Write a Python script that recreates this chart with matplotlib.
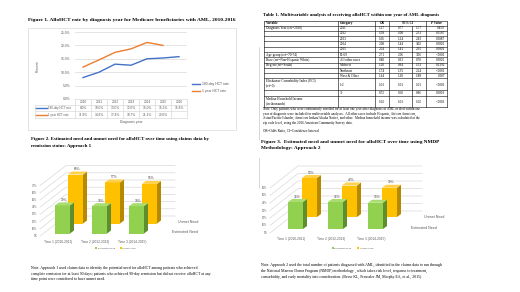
import numpy as np
import matplotlib
matplotlib.use("Agg")
import matplotlib.pyplot as plt
from matplotlib.patches import Polygon, Rectangle

# --- données ---
years = [2010, 2011, 2012, 2013, 2014, 2015, 2016]
rate_180d = [8.0, 10.0, 13.0, 12.6, 15.0, 15.3, 15.8]
rate_1yr = [11.9, 14.6, 17.4, 18.7, 21.1, 20.0]

tbl_variable = ["Diagnosis Year (ref=2010)", "", "", "", "", "Age group (ref=70-74)",
                "Race (ref=Non-Hispanic White)", "Region (ref=South)", "", "",
                "Elixhauser Comorbidity Index (ECI)\n(ref=0)", "",
                "Median Household Income\n(in thousands)"]
tbl_category = ["2011", "2012", "2013", "2014", "2015", "65-69", "All other races",
                "Midwest", "Northeast", "West & Other", "1-2", "3+", ""]
tbl_or = ["1.17", "1.58", "1.66", "2.08", "2.04", "2.71", "0.48", "1.20", "1.74", "1.44",
          "1.01", "0.72", "1.02"]
tbl_ci_lo = ["0.77", "1.08", "1.14", "1.44", "1.41", "2.06", "0.33", "0.94", "1.35", "1.10",
             "1.01", "0.60", "1.01"]
tbl_ci_hi = ["1.77", "2.31", "2.43", "3.02", "2.95", "3.56", "0.70", "1.53", "2.24", "1.88",
             "1.01", "0.86", "1.02"]
tbl_p = ["0.459", "0.0187", "0.0087", "0.0001", "0.0001", "<.0001", "0.0001", "0.1392",
         "<.0001", "0.007", "<.0001", "0.0003", "<.0001"]

periods = ["Time 1 (2010-2011)", "Time 2 (2012-2013)", "Time 3 (2014-2015)"]
a1_need = [39, 38, 38]
a1_unmet = [68, 57, 55]
a2_need = [36, 36, 35]
a2_unmet = [52, 42, 39]

W, H = 520, 292
SERIF = "Liberation Serif"
SANS = "Liberation Sans"
GRID = "#d9d9d9"
TXT = "#595959"
BLUE, ORANGE = "#4472C4", "#ED7D31"

fig = plt.figure(figsize=(W / 100, H / 100), dpi=100)
bg = fig.add_axes([0, 0, 1, 1])
bg.set_xlim(0, W)
bg.set_ylim(H, 0)
bg.axis("off")


def txt(x, y, s, size, family=SERIF, **kw):
    kw.setdefault("va", "center")
    bg.text(x, y, s, fontsize=size, family=family, **kw)


def px_axes(l, t, r, b):
    return fig.add_axes([l / W, 1 - b / H, (r - l) / W, (b - t) / H])


# ============ Figure 1 : courbes ============
txt(28, 20, "Figure 1. AlloHCT rate by diagnosis year for Medicare beneficiaries with AML, 2010-2016",
    3.9, weight="bold")
bg.add_patch(Rectangle((28, 28), 208, 102, fill=False, ec=GRID, lw=0.5))

ax1 = px_axes(75, 32, 187, 99)
ax1.set_facecolor("none")
x = np.arange(len(years))
ax1.plot(x, rate_180d, color=BLUE, lw=1.0)
ax1.plot(x[:len(rate_1yr)], rate_1yr, color=ORANGE, lw=1.0)
ax1.set_xlim(-0.5, len(years) - 0.5)
ax1.set_ylim(0, 25)
ax1.set_yticks(range(0, 26, 5))
ax1.set_yticklabels([f"{v:.1f}%" for v in range(0, 26, 5)], fontsize=2.4, color=TXT, family=SANS)
ax1.set_xticks([])
ax1.tick_params(length=0, pad=3)
ax1.grid(axis="y", color=GRID, lw=0.5)
for s in ax1.spines.values():
    s.set_visible(False)
txt(38, 66, "Percent", 2.4, family=SANS, color=TXT, rotation=90, ha="center")

# légende à droite
for yy, col, lab in [(84, BLUE, "180-day HCT rate"), (91, ORANGE, "1 year HCT rate")]:
    bg.plot([192, 200], [yy, yy], color=col, lw=1.0)
    txt(202, yy, lab, 2.4, family=SANS, color=TXT)

# table de données sous le graphique
cell = 16
x_left = 75
for k, yr in enumerate(years):
    txt(x_left + cell * (k + 0.5), 101.8, str(yr), 2.3, family=SANS, color=TXT, ha="center")
    txt(x_left + cell * (k + 0.5), 108.2, f"{rate_180d[k]:.1f}%", 2.3, family=SANS, color=TXT, ha="center")
    if k < len(rate_1yr):
        txt(x_left + cell * (k + 0.5), 114.6, f"{rate_1yr[k]:.1f}%", 2.3, family=SANS, color=TXT, ha="center")
for yy in [99, 105, 111.4, 118]:
    bg.plot([35 if yy > 99 else x_left, 187], [yy, yy], color=GRID, lw=0.5)
for k in range(len(years) + 1):
    bg.plot([x_left + cell * k] * 2, [99, 118], color=GRID, lw=0.5)
bg.plot([35, 35], [105, 118], color=GRID, lw=0.5)
for yy, col, lab in [(108.2, BLUE, "180-day HCT rate"), (114.6, ORANGE, "1 year HCT rate")]:
    bg.plot([36, 47], [yy, yy], color=col, lw=1.0)
    txt(48.5, yy, lab, 2.1, family=SANS, color=TXT)
txt(131, 122.5, "Diagnosis year", 2.4, family=SANS, color=TXT, ha="center")

# séparateur vertical
bg.plot([259, 259], [47, 140], color="#c8c8c8", lw=0.5)
bg.plot([259, 259], [158, 188], color="#c8c8c8", lw=0.5)

# ============ Table 1 ============
txt(263, 15, "Table 1. Multivariable analysis of receiving alloHCT within one year of AML diagnosis",
    3.4, weight="bold")
cx = [264, 338, 375, 389, 412, 426, 447]
ry = [21, 25.5]
for h in [5.3] * 10 + [12, 6, 11]:
    ry.append(ry[-1] + h)
TS = 2.4
bg.plot([cx[0], cx[-1]], [ry[0], ry[0]], color="k", lw=0.4)
for yy in ry[1:]:
    bg.plot([cx[0], cx[-1]], [yy, yy], color="k", lw=0.4)
for i, xx in enumerate(cx):
    if i == 4:
        bg.plot([xx, xx], [ry[1], ry[-1]], color="k", lw=0.4)
    else:
        bg.plot([xx, xx], [ry[0], ry[-1]], color="k", lw=0.4)
hy = (ry[0] + ry[1]) / 2
txt(cx[0] + 1.5, hy, "Variable", TS, weight="bold")
txt(cx[1] + 2, hy, "Category", TS, weight="bold")
txt((cx[2] + cx[3]) / 2, hy, "OR", TS, weight="bold", ha="center")
txt((cx[3] + cx[5]) / 2, hy, "95% CI", TS, weight="bold", ha="center")
txt((cx[5] + cx[6]) / 2, hy, "P Value", TS, weight="bold", style="italic", ha="center")
for i in range(len(tbl_or)):
    top, bot = ry[i + 1], ry[i + 2]
    mid = (top + bot) / 2
    if tbl_variable[i]:
        txt(cx[0] + 1.5, top + 0.6, tbl_variable[i], TS, va="top", linespacing=1.1)
    txt(cx[1] + 2, mid, tbl_category[i], TS)
    txt((cx[2] + cx[3]) / 2, mid, tbl_or[i], TS, ha="center")
    txt((cx[3] + cx[4]) / 2, mid, tbl_ci_lo[i], TS, ha="center")
    txt((cx[4] + cx[5]) / 2, mid, tbl_ci_hi[i], TS, ha="center")
    txt(cx[6] - 2, mid, tbl_p[i], TS, ha="right")

note1 = ["Note. Only patients who were continuously enrolled for at least one year after diagnosis of AML or died within one",
         "year of diagnosis were included for multivariable analyses.  All other races include Hispanic, African American,",
         "Asian/Pacific Islander, American Indian/Alaska Native, and other.  Median household income was calculated at the",
         "zip code level, using the 2016 American Community Survey data."]
for k, line in enumerate(note1):
    txt(263, 109.3 + 4.4 * k, line, 2.45)
txt(263, 131, "OR=Odds Ratio, CI=Confidence Interval", 2.45)


# ============ graphiques 3D (figures 2 et 3) ============
def bar3d(ax, xc, h, base, w, ddx, ddy, cols, z):
    front, side, top = cols
    ax.bar(xc, h, width=w, bottom=base, color=front, lw=0, zorder=z)
    ax.add_patch(Polygon([(xc + w / 2, base), (xc + w / 2 + ddx, base + ddy),
                          (xc + w / 2 + ddx, base + h + ddy), (xc + w / 2, base + h)],
                         closed=True, color=side, lw=0, zorder=z))
    ax.add_patch(Polygon([(xc - w / 2, base + h), (xc + w / 2, base + h),
                          (xc + w / 2 + ddx, base + h + ddy), (xc - w / 2 + ddx, base + h + ddy)],
                         closed=True, color=top, lw=0, zorder=z))


GREEN_C = ("#92D050", "#5E8E2E", "#A9DD72")
GOLD_C = ("#FFC000", "#B58A00", "#FFD04A")


def chart3d(need, unmet, c):
    sx, sy = c["sx"], c["sy"]
    l, t, r, b = c["box"]
    ax = px_axes(l, t, r, b)
    ax.set_xlim((l - c["x0"]) / sx, (r - c["x0"]) / sx)
    ax.set_ylim((c["y0"] - b) / sy, (c["y0"] - t) / sy)
    ax.axis("off")
    fl = -c["floor"] / sy
    wl = (c["wall_l"] - c["x0"]) / sx
    wr = (c["wall_r"] - c["x0"]) / sx
    bdx, bdy = c["back"][0] / sx, c["back"][1] / sy
    for v in c["ticks"]:
        yv = fl + v
        ax.plot([wl, wl + bdx, wr], [yv, yv + bdy, yv + bdy], color=GRID, lw=0.5, zorder=1)
        ax.text(wl - 2.5 / sx, yv, f"{v}%", ha="right", va="center", fontsize=1.9,
                color=TXT, family=SANS)
    w = c["w"] / sx
    ddx, ddy = 4 / sx, 3 / sy
    ox, oy = c["row"][0] / sx, c["row"][1] / sy
    for i, v in enumerate(unmet):
        bar3d(ax, i + ox, v, oy, w, ddx, ddy, GOLD_C, 3)
        ax.text(i + ox + ddx / 2, oy + v + ddy + 0.5 / sy, f"{v}%", ha="center", va="bottom",
                fontsize=2.3, color="#404040", family=SANS, zorder=6)
    for i, v in enumerate(need):
        bar3d(ax, i, v, 0, w, ddx, ddy, GREEN_C, 4)
        ax.text(i + ddx / 2, v + ddy + 0.5 / sy, f"{v}%", ha="center", va="bottom",
                fontsize=2.3, color="#404040", family=SANS, zorder=6)
    for i, p in enumerate(periods):
        ax.text(i - 4 / sx, fl - 6 / sy, p, ha="center", va="center", fontsize=2.3,
                color=TXT, family=SANS)
    return ax


# Figure 2
txt(31, 139, "Figure 2. Estimated need and unmet need for alloHCT over time using claims data by",
    3.55, weight="bold")
txt(31, 145.8, "remission status: Approach 1", 3.55, weight="bold")
chart3d(a1_need, a1_unmet, dict(box=(25, 160, 205, 245), x0=62.5, y0=233.5, sx=37, sy=0.72,
                                floor=2.5, wall_l=40, wall_r=175, back=(26, 20), row=(13, 10),
                                w=15, ticks=range(0, 71, 10)))
txt(198, 222, "Unmet Need", 2.6, family=SANS, color=TXT, ha="right")
txt(198, 232, "Estimated Need", 2.6, family=SANS, color=TXT, ha="right")
bg.add_patch(Rectangle((95, 247), 1.8, 1.8, color=GREEN_C[0], lw=0))
txt(97.5, 248, "Estimated Need", 1.7, family=SANS, color=TXT)
bg.add_patch(Rectangle((120, 247), 1.8, 1.8, color=GOLD_C[0], lw=0))
txt(122.5, 248, "Unmet Need", 1.7, family=SANS, color=TXT)
note2 = ["Note. Approach 1 used claims data to identify the potential need for alloHCT among patients who achieved",
         "complete remission for at least 90 days; patients who achieved 90-day remission but did not receive alloHCT at any",
         "time point were considered to have unmet need."]
for k, line in enumerate(note2):
    txt(31, 268 + 5.6 * k, line, 2.8)

# Figure 3
txt(261, 141.7, "Figure 3.  Estimated need and unmet need for alloHCT over time using NMDP",
    3.75, weight="bold")
txt(261, 148, "Methodology: Approach 2", 3.75, weight="bold")
chart3d(a2_need, a2_unmet, dict(box=(255, 160, 450, 245), x0=295.5, y0=229, sx=40, sy=0.75,
                                floor=4, wall_l=270, wall_r=422, back=(28, 22), row=(14, 12),
                                w=15, ticks=range(0, 61, 10)))
txt(444, 217, "Unmet Need", 2.6, family=SANS, color=TXT, ha="right")
txt(437, 228, "Estimated Need", 2.6, family=SANS, color=TXT, ha="right")
bg.add_patch(Rectangle((332, 247), 1.8, 1.8, color=GREEN_C[0], lw=0))
txt(334.5, 248, "Estimated Need", 1.7, family=SANS, color=TXT)
bg.add_patch(Rectangle((357, 247), 1.8, 1.8, color=GOLD_C[0], lw=0))
txt(359.5, 248, "Unmet Need", 1.7, family=SANS, color=TXT)
note3 = ["Note. Approach 2 used the total number of patients diagnosed with AML, identified in the claims data to run through",
         "the National Marrow Donor Program (NMDP) methodology , which takes risk level, response to treatment,",
         "comorbidity, and early mortality into consideration. (Besse KL, Preussler JM, Murphy EA, et al., 2015)"]
for k, line in enumerate(note3):
    txt(261, 265 + 5.8 * k, line, 2.8)

fig.savefig("out.png", dpi=100, facecolor="white")
